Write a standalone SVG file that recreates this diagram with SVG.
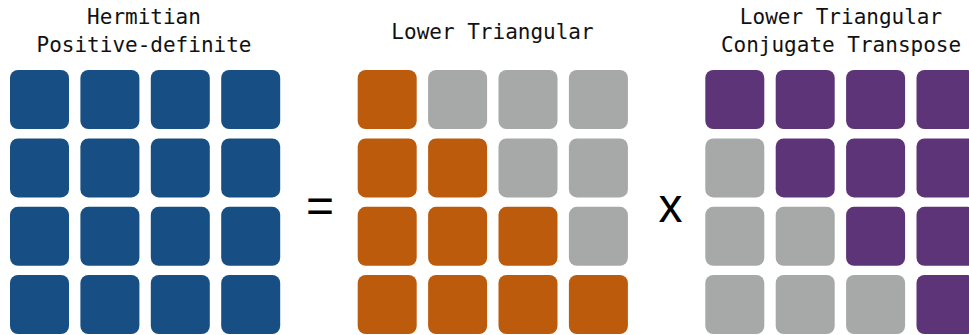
<svg xmlns="http://www.w3.org/2000/svg" width="969" height="335" viewBox="0 0 969 335">
<style>
.t{font-family:"DejaVu Sans Mono","Liberation Mono",monospace;font-size:21px;fill:#111;text-anchor:middle}
.op{font-family:"Liberation Sans",Arial,sans-serif;font-size:48px;fill:#000;text-anchor:middle}
.b{fill:#174f84}
.o{fill:#bc5b0b}
.g{fill:#a6a9a7}
.p{fill:#5e3479}
rect{rx:8px;ry:8px}
</style>
<defs>
<rect id="c" width="59" height="59" rx="8" ry="8"/>
</defs>
<rect width="969" height="335" fill="#fff" style="rx:0"/>
<g id="hermitian">
<text class="t" x="144" y="24">Hermitian</text>
<text class="t" x="144" y="52">Positive-definite</text>
<g class="b">
<use href="#c" x="10" y="70"/><use href="#c" x="80.4" y="70"/><use href="#c" x="150.8" y="70"/><use href="#c" x="221.2" y="70"/>
<use href="#c" x="10" y="138.4"/><use href="#c" x="80.4" y="138.4"/><use href="#c" x="150.8" y="138.4"/><use href="#c" x="221.2" y="138.4"/>
<use href="#c" x="10" y="206.8"/><use href="#c" x="80.4" y="206.8"/><use href="#c" x="150.8" y="206.8"/><use href="#c" x="221.2" y="206.8"/>
<use href="#c" x="10" y="275"/><use href="#c" x="80.4" y="275"/><use href="#c" x="150.8" y="275"/><use href="#c" x="221.2" y="275"/>
</g>
</g>
<g id="equals"><text class="op" x="320" y="222">=</text></g>
<g id="lower">
<text class="t" x="492.5" y="39">Lower Triangular</text>
<g class="o">
<use href="#c" x="357.7" y="70"/>
<use href="#c" x="357.7" y="138.4"/><use href="#c" x="428.1" y="138.4"/>
<use href="#c" x="357.7" y="206.8"/><use href="#c" x="428.1" y="206.8"/><use href="#c" x="498.5" y="206.8"/>
<use href="#c" x="357.7" y="275"/><use href="#c" x="428.1" y="275"/><use href="#c" x="498.5" y="275"/><use href="#c" x="568.9" y="275"/>
</g>
<g class="g">
<use href="#c" x="428.1" y="70"/><use href="#c" x="498.5" y="70"/><use href="#c" x="568.9" y="70"/>
<use href="#c" x="498.5" y="138.4"/><use href="#c" x="568.9" y="138.4"/>
<use href="#c" x="568.9" y="206.8"/>
</g>
</g>
<g id="times"><text class="op" x="670.5" y="222">x</text></g>
<g id="conjugate">
<text class="t" x="841" y="24">Lower Triangular</text>
<text class="t" x="841" y="52">Conjugate Transpose</text>
<g class="p">
<use href="#c" x="705.3" y="70"/><use href="#c" x="775.7" y="70"/><use href="#c" x="846.1" y="70"/><use href="#c" x="916.5" y="70"/>
<use href="#c" x="775.7" y="138.4"/><use href="#c" x="846.1" y="138.4"/><use href="#c" x="916.5" y="138.4"/>
<use href="#c" x="846.1" y="206.8"/><use href="#c" x="916.5" y="206.8"/>
<use href="#c" x="916.5" y="275"/>
</g>
<g class="g">
<use href="#c" x="705.3" y="138.4"/>
<use href="#c" x="705.3" y="206.8"/><use href="#c" x="775.7" y="206.8"/>
<use href="#c" x="705.3" y="275"/><use href="#c" x="775.7" y="275"/><use href="#c" x="846.1" y="275"/>
</g>
</g>
</svg>
